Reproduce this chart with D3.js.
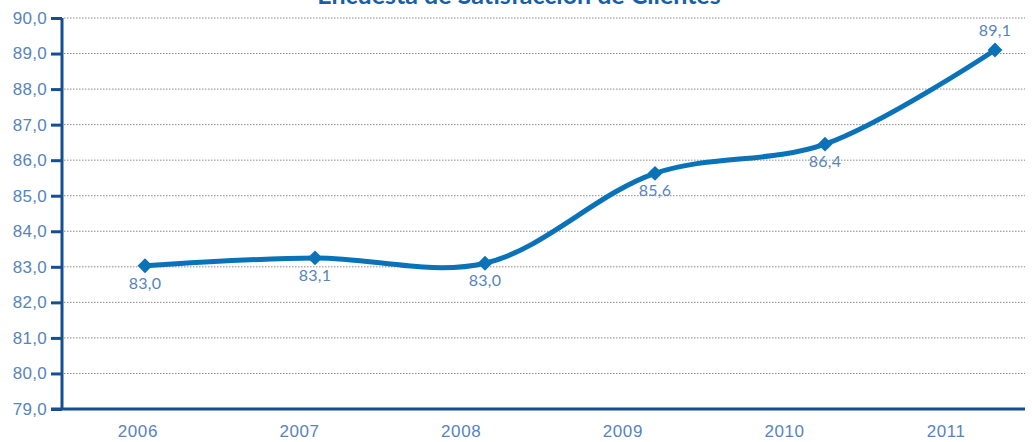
<!DOCTYPE html>
<html>
<head>
<meta charset="utf-8">
<script src="https://cdn.jsdelivr.net/npm/d3@7"></script>
<style>
  body { margin: 0; background: #fff; }
  svg { display: block; font-family: Lato, "Open Sans", sans-serif; }
</style>
</head>
<body>
<div id="chart"></div>
<script>
// datos del gráfico
const years = ["2006", "2007", "2008", "2009", "2010", "2011"];
const values = [83.03, 83.25, 83.1, 85.63, 86.45, 89.1];
const pointLabels = ["83,0", "83,1", "83,0", "85,6", "86,4", "89,1"];
const yTicks = [79, 80, 81, 82, 83, 84, 85, 86, 87, 88, 89, 90];
const title = "Encuesta de Satisfacción de Clientes";

const width = 1032, height = 442;
const axisBlue = "#154f91", lineBlue = "#0a72b9", textBlue = "#5784bd";

const svg = d3.select("#chart").append("svg")
  .attr("width", width)
  .attr("height", height);

const y = d3.scaleLinear().domain([79, 90]).range([409, 18]);
const xBand = d3.scaleBand().domain(years).range([57, 1027]);
const xPt = d3.scalePoint().domain(years).range([145, 995]);

// líneas de cuadrícula
svg.append("g")
  .selectAll("line")
  .data(yTicks.filter(d => d > 79))
  .enter().append("line")
  .attr("x1", 64)
  .attr("x2", 1025)
  .attr("y1", d => y(d))
  .attr("y2", d => y(d))
  .attr("stroke", "#8a8a8a")
  .attr("stroke-width", 1)
  .attr("stroke-dasharray", "1.5,1.5");

// eje Y
const yAxis = svg.append("g")
  .attr("transform", "translate(62,0)")
  .call(d3.axisLeft(y).tickValues(yTicks).tickSize(11).tickPadding(4)
    .tickFormat(d => d3.format(".1f")(d).replace(".", ",")));
yAxis.select(".domain").attr("stroke", axisBlue).attr("stroke-width", 3)
  .attr("d", `M0,${y(90)}V${y(79)}`);
yAxis.selectAll(".tick line").attr("stroke", axisBlue).attr("stroke-width", 3);
yAxis.selectAll(".tick text")
  .attr("fill", textBlue)
  .style("font-size", "17px")
  .style("letter-spacing", "0.3px");

// eje X
const xAxis = svg.append("g")
  .attr("transform", "translate(0,409)")
  .call(d3.axisBottom(xBand).tickSize(0).tickPadding(16));
xAxis.select(".domain").attr("stroke", axisBlue).attr("stroke-width", 3)
  .attr("d", "M51,0H1025");
xAxis.selectAll(".tick text")
  .attr("fill", textBlue)
  .style("font-size", "17px")
  .style("letter-spacing", "0.6px");

// línea
const data = years.map((yr, i) => ({ yr, v: values[i], label: pointLabels[i] }));
const line = d3.line()
  .x(d => xPt(d.yr))
  .y(d => y(d.v))
  .curve(d3.curveCatmullRom.alpha(0.5));

svg.append("path")
  .datum(data)
  .attr("d", line)
  .attr("fill", "none")
  .attr("stroke", lineBlue)
  .attr("stroke-width", 5)
  .attr("stroke-linejoin", "round");

// marcadores
svg.selectAll(".marker")
  .data(data)
  .enter().append("path")
  .attr("class", "marker")
  .attr("d", d3.symbol(d3.symbolSquare, 110))
  .attr("transform", d => `translate(${xPt(d.yr)},${y(d.v)}) rotate(45)`)
  .attr("fill", lineBlue);

// etiquetas de valores
svg.selectAll(".vlabel")
  .data(data)
  .enter().append("text")
  .attr("class", "vlabel")
  .attr("x", d => xPt(d.yr))
  .attr("y", (d, i) => i === data.length - 1 ? y(d.v) - 14 : y(d.v) + 23)
  .attr("text-anchor", "middle")
  .attr("fill", textBlue)
  .style("font-size", "16px")
  .style("letter-spacing", "0.2px")
  .text(d => d.label);

// título (cortado arriba)
svg.append("text")
  .attr("x", 519)
  .attr("y", 4)
  .attr("text-anchor", "middle")
  .attr("fill", "#1560a8")
  .style("font-size", "25px")
  .style("font-weight", "bold")
  .text(title);
</script>
</body>
</html>
